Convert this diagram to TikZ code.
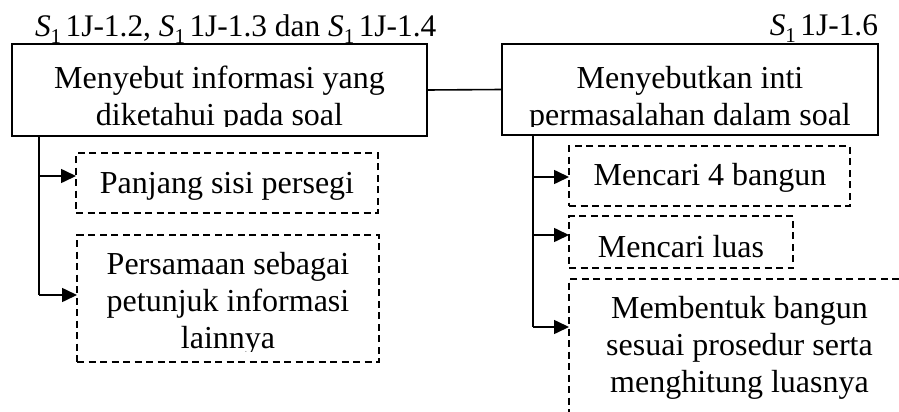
\documentclass[tikz,border=0pt]{standalone}
\usepackage{fontspec}
\setmainfont{Liberation Serif}
\usetikzlibrary{arrows.meta}
% italic S with subscript 1, as used in the code labels
\newcommand{\sidx}{\textit{S}\raisebox{-0.22em}{\fontsize{21}{21}\selectfont 1}\hspace{0.14em}}

\begin{document}
\begin{tikzpicture}[x=1pt,y=-1pt,
  every node/.style={font=\fontsize{32}{37}\selectfont, inner sep=0pt, outer sep=0pt},
  codelabel/.style={font=\fontsize{31.4}{37}\selectfont},
  mainbox/.style={draw, line width=2.6pt, rectangle, anchor=north west},
  dbox/.style={draw, line width=2.4pt, dash pattern=on 7pt off 4.5pt, rectangle, anchor=north west},
  txt/.style={anchor=base, align=center},
  conn/.style={line width=1.6pt},
  arr/.style={line width=1.6pt, -{Triangle[length=15pt,width=14pt]}}
]
\useasboundingbox (0,0) rectangle (899,412);
\clip (0,0) rectangle (899,412);

% code labels
\node[codelabel, anchor=base west] (lab1) at (35,37) {\sidx 1J-1.2, \sidx 1J-1.3 dan \sidx 1J-1.4};
\node[codelabel, anchor=base east] (lab2) at (878,36) {\sidx 1J-1.6};

% main boxes (text anchored at the baseline of its last line)
\node[mainbox, minimum width=415pt, minimum height=92pt] (L) at (12,44) {};
\node[mainbox, minimum width=376pt, minimum height=91pt] (R) at (502,44) {};
\begin{scope}
  \clip (12,44) rectangle (427,126);
  \node[txt] (Lt) at (219.5,125) {Menyebut informasi yang\\diketahui pada soal};
\end{scope}
\begin{scope}
  \clip (502,44) rectangle (878,126);
  \node[txt] (Rt) at (690,125) {Menyebutkan inti\\permasalahan dalam soal};
\end{scope}

% sub-item boxes, left
\node[dbox, minimum width=302pt, minimum height=60pt] (P1) at (76,153) {};
\node[txt] (P1t) at (227,193) {Panjang sisi persegi};
\node[dbox, minimum width=302pt, minimum height=127pt] (P2) at (77,235) {};
\begin{scope}
  \clip (77,235) rectangle (379,351);
  \node[txt] (P2t) at (228,348) {Persamaan sebagai\\petunjuk informasi\\lainnya};
\end{scope}

% sub-item boxes, right
\node[dbox, minimum width=281pt, minimum height=60pt] (Q1) at (569,146) {};
\node[txt] (Q1t) at (710,185) {Mencari 4 bangun};
\node[dbox, minimum width=224pt, minimum height=52pt] (Q2) at (569,216) {};
\node[txt] (Q2t) at (681,257) {Mencari luas};
\node[dbox, minimum width=341pt, minimum height=200pt] (Q3) at (569,279) {};
\node[txt] (Q3t) at (739.5,392) {Membentuk bangun\\sesuai prosedur serta\\menghitung luasnya};

% connectors
\draw[conn] (L.east) -- (R.west);

\coordinate (lt) at (39,136);
\coordinate (la1) at (39,176);
\coordinate (la2) at (39,295);
\draw[conn] (lt) -- (la2);
\draw[arr] (la1) -- (la1 -| P1.west);
\draw[arr] (la2) -- (la2 -| P2.west);

\coordinate (rt) at (533,135);
\coordinate (ra1) at (533,177);
\coordinate (ra2) at (533,235);
\coordinate (ra3) at (533,327);
\draw[conn] (rt) -- (ra3);
\draw[arr] (ra1) -- (ra1 -| Q1.west);
\draw[arr] (ra2) -- (ra2 -| Q2.west);
\draw[arr] (ra3) -- (ra3 -| Q3.west);
\end{tikzpicture}
\end{document}
